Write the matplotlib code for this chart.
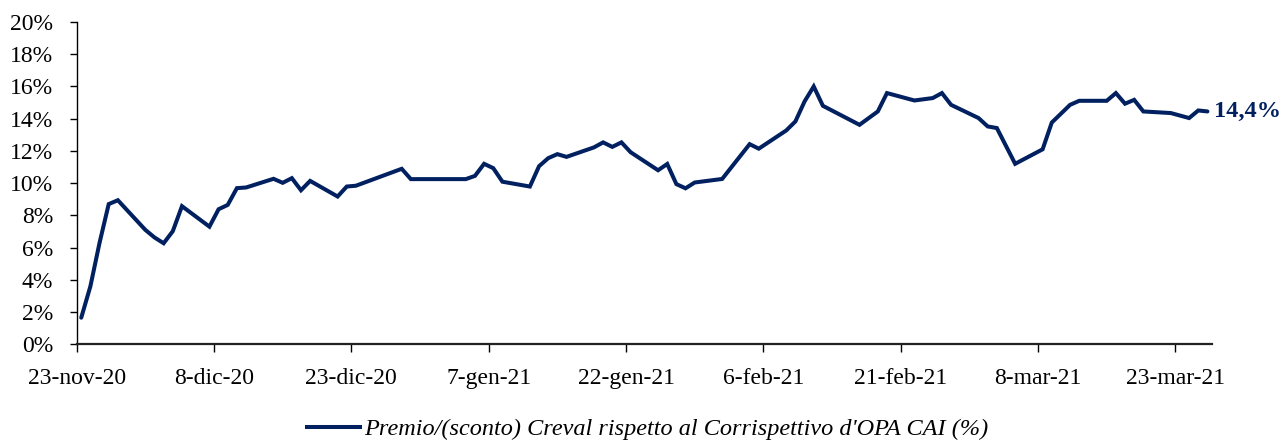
import matplotlib
matplotlib.use("Agg")
import matplotlib.pyplot as plt
import numpy as np
import pandas as pd
from matplotlib.ticker import FixedLocator, FuncFormatter
from matplotlib.lines import Line2D

# ---- data ----
dates = [
    "2020-11-23", "2020-11-24", "2020-11-25", "2020-11-26", "2020-11-27",
    "2020-11-30", "2020-12-01", "2020-12-02", "2020-12-03", "2020-12-04",
    "2020-12-07", "2020-12-08", "2020-12-09", "2020-12-10", "2020-12-11",
    "2020-12-14", "2020-12-15", "2020-12-16", "2020-12-17", "2020-12-18",
    "2020-12-21", "2020-12-22", "2020-12-23", "2020-12-28", "2020-12-29",
    "2020-12-30", "2021-01-04", "2021-01-05", "2021-01-06", "2021-01-07",
    "2021-01-08", "2021-01-11", "2021-01-12", "2021-01-13", "2021-01-14",
    "2021-01-15", "2021-01-18", "2021-01-19", "2021-01-20", "2021-01-21",
    "2021-01-22", "2021-01-25", "2021-01-26", "2021-01-27", "2021-01-28",
    "2021-01-29", "2021-02-01", "2021-02-04", "2021-02-05", "2021-02-08",
    "2021-02-09", "2021-02-10", "2021-02-11", "2021-02-12", "2021-02-16",
    "2021-02-18", "2021-02-19", "2021-02-22", "2021-02-24", "2021-02-25",
    "2021-02-26", "2021-03-01", "2021-03-02", "2021-03-03", "2021-03-05",
    "2021-03-08", "2021-03-09", "2021-03-11", "2021-03-12", "2021-03-15",
    "2021-03-16", "2021-03-17", "2021-03-18", "2021-03-19", "2021-03-22",
    "2021-03-24", "2021-03-25", "2021-03-26",
]
premio = [
    1.65, 3.6, 6.3, 8.7, 8.94,
    7.1, 6.63, 6.27, 7.02, 8.57,
    7.3, 8.38, 8.65, 9.69, 9.73,
    10.27, 10.02, 10.31, 9.56, 10.14,
    9.17, 9.79, 9.84, 10.89, 10.25,
    10.25, 10.25, 10.45, 11.2, 10.93,
    10.09, 9.79, 11.05, 11.55, 11.8,
    11.63, 12.22, 12.53, 12.25, 12.53,
    11.92, 10.8, 11.19, 9.94, 9.68,
    10.04, 10.26, 12.42, 12.14, 13.27,
    13.83, 15.07, 16.0, 14.8, 13.62,
    14.45, 15.59, 15.13, 15.28, 15.59,
    14.86, 14.04, 13.52, 13.42, 11.2,
    12.1, 13.76, 14.86, 15.11, 15.11,
    15.59, 14.93, 15.17, 14.45, 14.35,
    14.04, 14.51, 14.45,
]
y_ticks = [0, 2, 4, 6, 8, 10, 12, 14, 16, 18, 20]
x_tick_dates = ["2020-11-23", "2020-12-08", "2020-12-23", "2021-01-07", "2021-01-22",
                "2021-02-06", "2021-02-21", "2021-03-08", "2021-03-23"]
x_tick_labels = ["23-nov-20", "8-dic-20", "23-dic-20", "7-gen-21", "22-gen-21",
                 "6-feb-21", "21-feb-21", "8-mar-21", "23-mar-21"]
series_label = "Premio/(sconto) Creval rispetto al Corrispettivo d'OPA CAI (%)"
last_label = "14,4%"

# ---- style ----
navy = "#012060"
serif = ["Liberation Serif", "DejaVu Serif"]
plt.rcParams["font.family"] = serif

fig = plt.figure(figsize=(12.82, 4.41), dpi=100)
ax = fig.add_axes([0.0598, 0.2193, 0.9454 - 0.0598, 0.9501 - 0.2193])

x = pd.to_datetime(dates) + pd.Timedelta(hours=12)
ax.plot(x, premio, color=navy, lw=2.9, solid_joinstyle="miter", solid_capstyle="round")

ax.set_ylim(0, 20)
ax.set_xlim(pd.Timestamp("2020-11-23"), pd.Timestamp("2021-03-27"))
ax.yaxis.set_major_locator(FixedLocator(y_ticks))
ax.yaxis.set_major_formatter(FuncFormatter(lambda v, p: f"{v:.0f}%"))
ax.set_xticks(pd.to_datetime(x_tick_dates))
ax.set_xticklabels(x_tick_labels)

for s in ["top", "right"]:
    ax.spines[s].set_visible(False)
ax.spines["left"].set_linewidth(1.0)
ax.spines["bottom"].set_linewidth(1.6)
ax.spines["bottom"].set_color("#222222")
ax.tick_params(axis="y", direction="out", length=5, width=1, labelsize=17, pad=12)
ax.tick_params(axis="x", direction="out", length=6, width=1, labelsize=17, pad=11)

# last value label
ax.annotate(last_label, xy=(x[-1], premio[-1]), xytext=(5, 0), textcoords="offset points",
            ha="left", va="center", fontsize=17.5, fontweight="bold", color=navy,
            annotation_clip=False)

handle = Line2D([], [], color=navy, lw=2.9)
fig.legend([handle], [series_label], loc="center", bbox_to_anchor=(0.505, 0.027),
           frameon=False, handlelength=2.2, handletextpad=0.15,
           prop={"family": serif, "style": "italic", "size": 17.5})

fig.savefig("out.png", dpi=100)
